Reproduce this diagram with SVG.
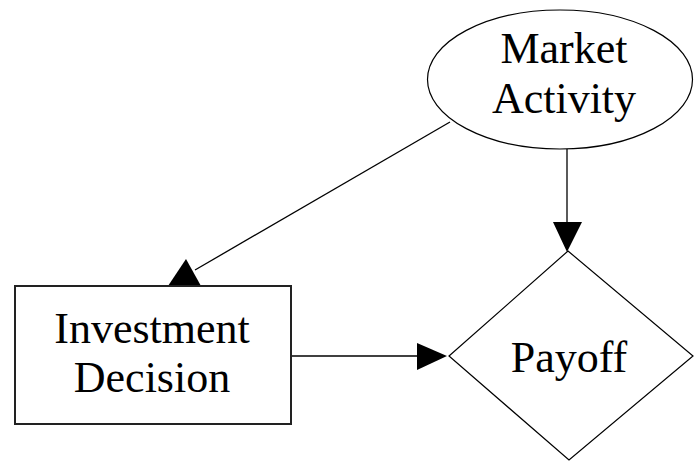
<svg xmlns="http://www.w3.org/2000/svg" width="696" height="462" viewBox="0 0 696 462">
  <defs>
    <style>
      .shape { fill: #fff; stroke: #000; stroke-width: 1.2; }
      .box { fill: #fff; stroke: #222; stroke-width: 2; }
      .edge { stroke: #000; stroke-width: 1.3; fill: none; }
      .head { fill: #000; stroke: none; }
      .label { font-family: "Liberation Serif", "Times New Roman", serif; font-size: 44px; fill: #000; text-anchor: middle; }
    </style>
  </defs>
  <rect width="696" height="462" fill="#fff"/>

  <!-- connectors -->
  <g id="connectors">
    <line class="edge" x1="450" y1="122" x2="195" y2="270"/>
    <polygon class="head" points="186,259 168,286 201,286"/>
    <line class="edge" x1="567" y1="149" x2="567" y2="224"/>
    <polygon class="head" points="553,222 582,222 567,252"/>
    <line class="edge" x1="291" y1="356" x2="420" y2="356"/>
    <polygon class="head" points="417,343 417,370 447,356"/>
  </g>

  <g id="market-activity">
    <ellipse class="shape" cx="560" cy="79.5" rx="132.5" ry="69.5"/>
    <text class="label" x="564" y="63">Market</text>
    <text class="label" x="564" y="113">Activity</text>
  </g>

  <g id="investment-decision">
    <rect class="box" x="15" y="286" width="276" height="138"/>
    <text class="label" x="152" y="343">Investment</text>
    <text class="label" x="152" y="392">Decision</text>
  </g>

  <g id="payoff">
    <polygon class="shape" points="568,251 693,356 569,460 449,356"/>
    <text class="label" x="569" y="372">Payoff</text>
  </g>
</svg>
